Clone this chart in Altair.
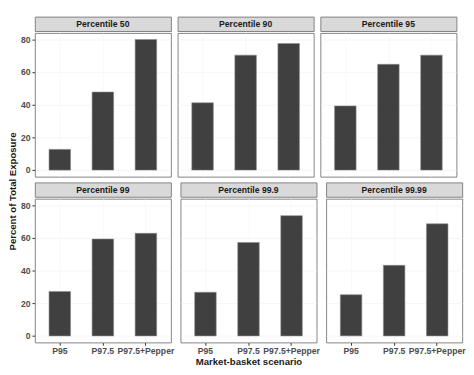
import altair as alt
import pandas as pd

percentiles = ["50", "90", "95", "99", "99.9", "99.99"]
scenarios = ["P95", "P97.5", "P97.5+Pepper"]
values_p50 = [12.7, 47.8, 80.0]
values_p90 = [41.2, 70.4, 77.5]
values_p95 = [39.3, 64.8, 70.4]
values_p99 = [27.2, 59.3, 62.8]
values_p999 = [26.7, 57.2, 73.6]
values_p9999 = [25.2, 43.2, 68.6]
all_values = [values_p50, values_p90, values_p95, values_p99, values_p999, values_p9999]

W = 142
H = 150
STRIP_H = 15
FONT = "Liberation Sans"


def panel(idx):
    pct = percentiles[idx]
    vals = all_values[idx]
    row, col = divmod(idx, 3)
    df = pd.DataFrame({"Scenario": scenarios, "Percent": vals})
    strip_df = pd.DataFrame({"label": ["Percentile " + pct]})

    strip = alt.Chart(strip_df).mark_text(
        fontSize=9, fontWeight="bold", color="#1a1a1a", font=FONT, baseline="middle"
    ).encode(
        text="label:N",
        x=alt.value(W / 2),
        y=alt.value(STRIP_H / 2 + 0.5),
    ).properties(
        width=W, height=STRIP_H,
        view=alt.ViewBackground(fill="#d9d9d9", stroke="#7f7f7f", strokeWidth=1,
                                cornerRadius=0),
    )

    if col == 0:
        yaxis = alt.Axis(values=[0, 20, 40, 60, 80], grid=True, gridColor="#efefef",
                         gridWidth=0.6, tickColor="#333333", tickSize=3, labelFontSize=9,
                         labelFontWeight="bold", labelColor="#4d4d4d", labelPadding=2,
                         domain=False, title=None, labelFont=FONT)
    else:
        yaxis = alt.Axis(values=[0, 20, 40, 60, 80], grid=True, gridColor="#efefef",
                         gridWidth=0.6, labels=False, ticks=False, domain=False, title=None)

    if row == 1:
        xaxis = alt.Axis(labelAngle=0, tickSize=3, tickColor="#333333", labelFontSize=9,
                         labelFontWeight="bold", labelColor="#4d4d4d", labelPadding=2,
                         domain=False, grid=True, gridColor="#f4f4f4", gridWidth=0.6,
                         title="Market-basket scenario" if col == 1 else None,
                         titleFontSize=10, titleFontWeight="bold", titleColor="#1a1a1a",
                         titlePadding=1, labelFont=FONT, titleFont=FONT)
    else:
        xaxis = alt.Axis(labels=False, ticks=False, domain=False, grid=True,
                         gridColor="#f4f4f4", gridWidth=0.6, title=None)

    bars = alt.Chart(df).mark_bar(
        color="#404040", stroke="#8a8a8a", strokeWidth=0.6, cornerRadius=0
    ).encode(
        x=alt.X("Scenario:N", sort=scenarios, axis=xaxis,
                scale=alt.Scale(paddingInner=0.5, paddingOuter=0.33)),
        y=alt.Y("Percent:Q", axis=yaxis,
                scale=alt.Scale(domain=[-4, 84], nice=False, zero=False)),
    ).properties(
        width=W, height=H,
        view=alt.ViewBackground(fill="white", stroke="#7f7f7f", strokeWidth=1,
                                cornerRadius=0),
    )

    return alt.vconcat(strip, bars, spacing=0)


row1 = alt.hconcat(*[panel(i) for i in range(3)], spacing=5)
row2 = alt.hconcat(*[panel(i) for i in range(3, 6)], spacing=5)

chart = alt.vconcat(row1, row2, spacing=4).properties(
    padding=0,
    title=alt.TitleParams("Percent of Total Exposure", orient="left", anchor="middle",
                          fontSize=10, fontWeight="bold", color="#1a1a1a", font=FONT,
                          offset=2),
).configure(font=FONT).configure_view(stroke="#7f7f7f", cornerRadius=0)

chart.save("out.html", embed_options={"renderer": "svg", "actions": False})
